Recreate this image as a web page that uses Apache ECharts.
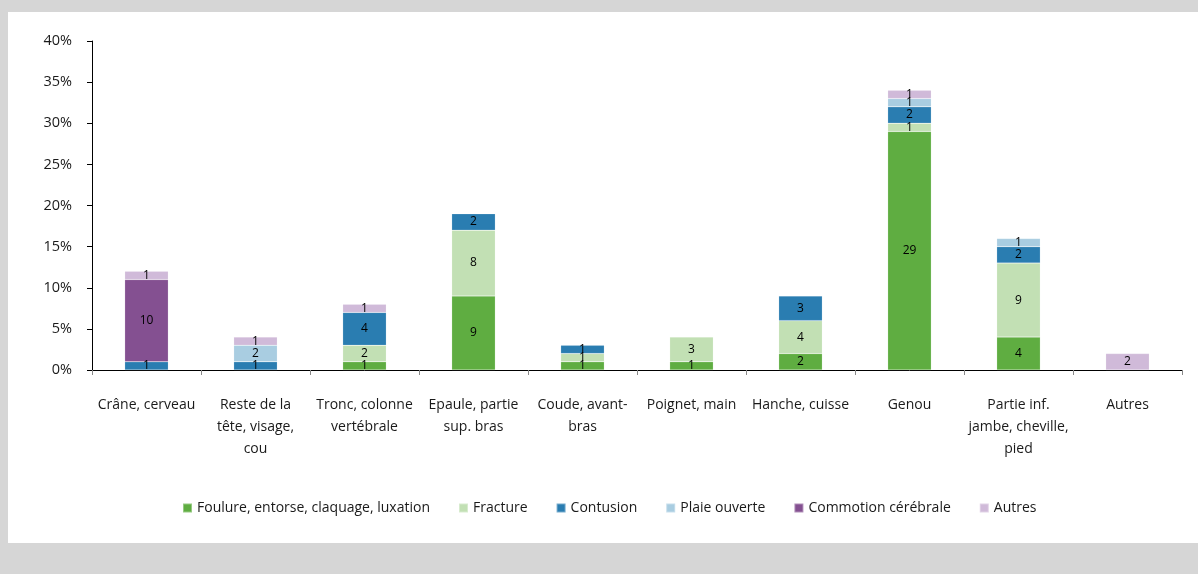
<!DOCTYPE html>
<html>
<head>
<meta charset="utf-8">
<script src="https://cdn.jsdelivr.net/npm/echarts@6/dist/echarts.min.js"></script>
<style>
html,body{margin:0;padding:0;background:#d6d6d6;}
#panel{position:absolute;left:8px;top:12px;width:1190px;height:531px;background:#fff;}
#main{position:absolute;left:0;top:0;width:1198px;height:574px;}
</style>
</head>
<body>
<div id="panel"></div>
<div id="main"></div>
<script>
const categories = ["Crâne, cerveau", "Reste de la\ntête, visage,\ncou", "Tronc, colonne\nvertébrale", "Epaule, partie\nsup. bras", "Coude, avant-\nbras", "Poignet, main", "Hanche, cuisse", "Genou", "Partie inf.\njambe, cheville,\npied", "Autres"];
const seriesNames = ["Foulure, entorse, claquage, luxation", "Fracture", "Contusion", "Plaie ouverte", "Commotion cérébrale", "Autres"];
const foulure   = [null, null, 1, 9, 1, 1, 2, 29, 4, null];
const fracture  = [null, null, 2, 8, 1, 3, 4, 1, 9, null];
const contusion = [1, 1, 4, 2, 1, null, 3, 2, 2, null];
const plaie     = [null, 2, null, null, null, null, null, 1, 1, null];
const commotion = [10, null, null, null, null, null, null, null, null, null];
const autres    = [1, 1, 1, null, null, null, null, 1, null, 2];
const yTicks = [0, 5, 10, 15, 20, 25, 30, 35, 40];
const colors = ["#5fad41", "#c2e0b4", "#2a7db1", "#a9cde1", "#845091", "#d0bad9"];
const seriesData = [foulure, fracture, contusion, plaie, commotion, autres];

const font = "'Open Sans', 'Noto Sans', sans-serif";
const chart = echarts.init(document.getElementById('main'), null, {renderer: 'canvas'});
chart.setOption({
  backgroundColor: 'transparent',
  animation: false,
  textStyle: {fontFamily: font},
  grid: {left: 92, right: 16, top: 41, bottom: 204, containLabel: false},
  legend: {
    bottom: 54, left: 177,
    itemWidth: 9, itemHeight: 9, itemGap: 28,
    icon: 'rect',
    textStyle: {fontSize: 14, color: '#1a1a1a', fontFamily: font},
    data: seriesNames
  },
  xAxis: {
    type: 'category',
    data: categories,
    axisLine: {lineStyle: {color: '#000', width: 1}},
    axisTick: {show: true, alignWithLabel: false, length: 5, lineStyle: {color: '#888'}},
    axisLabel: {interval: 0, fontSize: 14, color: '#1a1a1a', margin: 24, lineHeight: 22, fontFamily: font}
  },
  yAxis: {
    type: 'value',
    min: yTicks[0], max: yTicks[yTicks.length-1], interval: 5,
    axisLine: {show: true, lineStyle: {color: '#000'}},
    axisTick: {show: true, inside: false, length: 5, lineStyle: {color: '#000'}},
    splitLine: {show: false},
    axisLabel: {formatter: '{value}%', fontSize: 14.5, color: '#1a1a1a', margin: 20, fontFamily: font}
  },
  series: seriesNames.map((n, i) => ({
    name: n,
    type: 'bar',
    stack: 'total',
    barWidth: '40%',
    data: seriesData[i],
    itemStyle: {color: colors[i], borderColor: 'rgba(255,255,255,0.35)', borderWidth: 0.5},
    label: {show: true, position: 'inside', color: '#000', fontSize: 12, fontFamily: font,
      formatter: p => p.value == null ? '' : String(p.value)}
  }))
});
</script>
</body>
</html>
